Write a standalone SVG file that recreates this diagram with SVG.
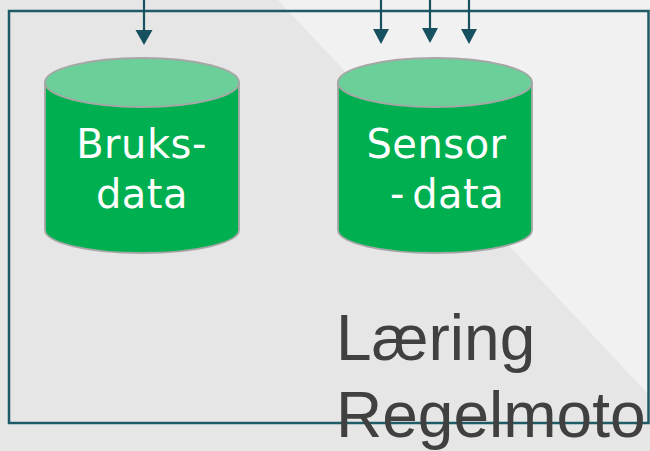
<svg xmlns="http://www.w3.org/2000/svg" width="650" height="451" viewBox="0 0 650 451">
  <style>
    .frame { fill: none; stroke: #1f5a67; stroke-width: 2.5; }
    .conn { stroke: #17505f; stroke-width: 2.2; fill: none; }
    .body { fill: #00b050; stroke: #a6a6a6; stroke-width: 1.8; }
    .top { fill: #6acf98; stroke: #a6a6a6; stroke-width: 1.8; }
    .lbl { font-family: "DejaVu Sans", Verdana, sans-serif; font-size: 40px; letter-spacing: 0.5px; fill: #ffffff; text-anchor: middle; }
    .big { font-family: "Liberation Sans", Arial, sans-serif; font-size: 64px; fill: #404040; }
  </style>
  <rect x="0" y="0" width="650" height="451" fill="#e6e6e6"/>
  <polygon points="278,0 650,0 650,396" fill="#f1f1f1"/>
  <rect class="frame" x="9" y="11" width="639.5" height="412"/>
  <g id="connectors">
    <line class="conn" x1="144" y1="0" x2="144" y2="32"/>
    <path d="M135.5,30 L152.5,30 L144,45 Z" fill="#17505f"/>
    <line class="conn" x1="381" y1="0" x2="381" y2="32"/>
    <path d="M373,29 L389,29 L381,44 Z" fill="#17505f"/>
    <line class="conn" x1="430" y1="0" x2="430" y2="30"/>
    <path d="M422,28 L438,28 L430,43 Z" fill="#17505f"/>
    <line class="conn" x1="469" y1="0" x2="469" y2="32"/>
    <path d="M461,29 L477,29 L469,44 Z" fill="#17505f"/>
  </g>
  <g id="bruksdata">
    <path class="body" d="M45,82.5 L45,230 A97,23 0 0 0 239,230 L239,82.5 Z"/>
    <ellipse class="top" cx="142" cy="82.5" rx="97" ry="24.5"/>
    <text class="lbl" x="141.5" y="158">Bruks-</text>
    <text class="lbl" x="142" y="208">data</text>
  </g>
  <g id="sensordata">
    <path class="body" d="M338,82.5 L338,230 A97,23 0 0 0 532,230 L532,82.5 Z"/>
    <ellipse class="top" cx="435" cy="82.5" rx="97" ry="24.5"/>
    <text class="lbl" x="436.5" y="158">Sensor</text>
    <text class="lbl" x="390" y="208" style="text-anchor:start; word-spacing:-6px">- data</text>
  </g>
  <g id="label">
    <text class="big" x="336" y="360">Læring</text>
    <text class="big" x="336" y="437">Regelmoto</text>
  </g>
</svg>
